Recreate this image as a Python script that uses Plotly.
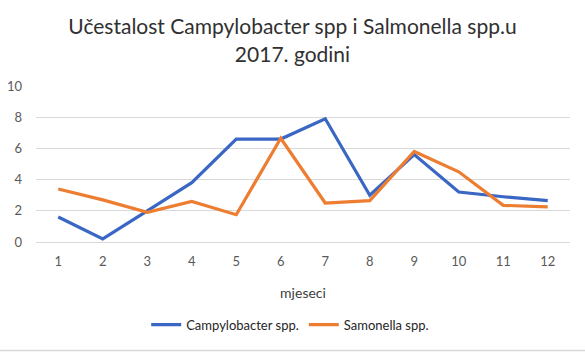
import plotly.graph_objects as go

months = [1, 2, 3, 4, 5, 6, 7, 8, 9, 10, 11, 12]
campylobacter = [1.6, 0.2, 2.0, 3.8, 6.6, 6.6, 7.9, 3.0, 5.6, 3.2, 2.9, 2.65]
salmonella = [3.4, 2.7, 1.9, 2.6, 1.75, 6.65, 2.5, 2.65, 5.8, 4.5, 2.35, 2.25]

title_text = "Učestalost Campylobacter spp i Salmonella spp.u<br>2017. godini"
font_family = "Lato, Open Sans, sans-serif"

fig = go.Figure()
fig.add_trace(go.Scatter(x=months, y=campylobacter, mode="lines", name="Campylobacter spp.",
                         line=dict(color="#3A66C4", width=3.2)))
fig.add_trace(go.Scatter(x=months, y=salmonella, mode="lines", name="Samonella spp.",
                         line=dict(color="#ED7D31", width=3.2)))

fig.update_layout(
    width=585, height=353,
    autosize=False,
    margin=dict(l=36, r=15, t=86, b=111, autoexpand=False),
    paper_bgcolor="white", plot_bgcolor="white",
    font=dict(family=font_family, color="#595959", size=13),
    title=dict(text=title_text, x=0.5, xanchor="center", xref="container",
               y=0.903, yanchor="middle", yref="container",
               font=dict(size=21, color="#303030", family=font_family)),
    showlegend=True,
    legend=dict(orientation="h", x=0.476, xanchor="center",
                y=-0.53, yanchor="middle", font=dict(size=13, color="#262626"),
                bgcolor="rgba(0,0,0,0)", itemwidth=30),
    xaxis=dict(range=[0.5, 12.5], tickmode="array", tickvals=months,
               ticktext=[str(m) for m in months], showgrid=False, zeroline=False,
               showline=False, ticks="", tickangle=0, automargin=False,
               ticklabelstandoff=10,
               title=dict(text="mjeseci", font=dict(size=14, color="#404040"), standoff=20)),
    yaxis=dict(range=[0, 10], tickvals=[0, 2, 4, 6, 8, 10], showgrid=True,
               gridcolor="#d9d9d9", gridwidth=1, zeroline=True, zerolinecolor="#d9d9d9",
               zerolinewidth=1, showline=False, ticks="", automargin=False,
               ticklabelstandoff=13),
)

fig.add_shape(type="line", xref="paper", yref="paper", x0=-0.07, x1=1.03,
              y0=-0.695, y1=-0.695, line=dict(color="#d9d9d9", width=1.5))

fig.write_html("out.html")
